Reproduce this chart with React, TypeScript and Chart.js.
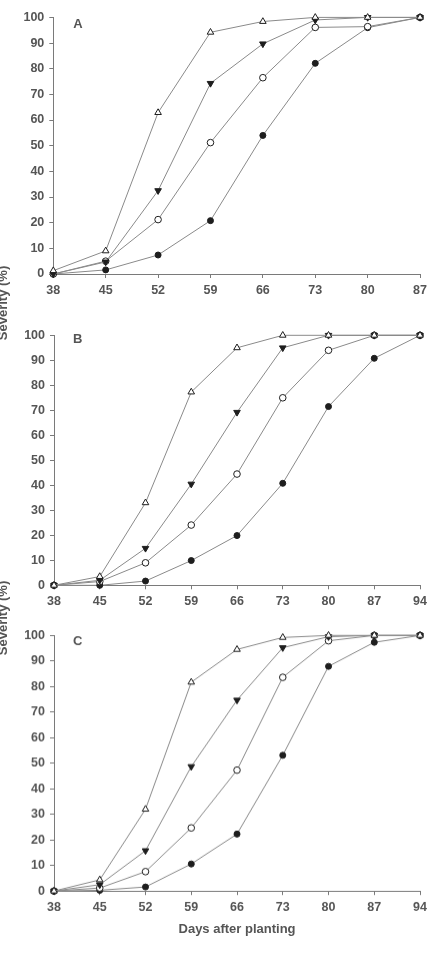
import { useEffect, useRef } from "react";
import { Chart, registerables } from "chart.js";

Chart.register(...registerables);

// Days after planting for each trial
const daysA = [38, 45, 52, 59, 66, 73, 80, 87];
const daysB = [38, 45, 52, 59, 66, 73, 80, 87, 94];
const daysC = [38, 45, 52, 59, 66, 73, 80, 87, 94];

// Severity (%) — trial A
const openTriangleA = [1.3, 9, 62.9, 94.2, 98.4, 100, 100, 100];
const filledTriangleA = [0, 4.7, 32.5, 74.3, 89.7, 99, 100, 100];
const openCircleA = [0, 5, 21.2, 51.2, 76.5, 96.1, 96.4, 100];
const filledCircleA = [0, 1.6, 7.4, 20.8, 54, 82.1, 96, 100];

// Severity (%) — trial B
const openTriangleB = [0, 3.5, 33, 77.3, 95, 100, 100, 100, 100];
const filledTriangleB = [0, 2, 14.8, 40.5, 69.2, 95, 100, 100, 100];
const openCircleB = [0, 1.5, 9, 24.1, 44.5, 75, 94, 100, 100];
const filledCircleB = [0, 0, 1.7, 9.9, 19.9, 40.8, 71.5, 90.8, 100];

// Severity (%) — trial C
const openTriangleC = [0, 4.4, 32, 81.7, 94.5, 99.2, 100, 100, 100];
const filledTriangleC = [0, 2.5, 15.8, 48.7, 74.7, 95.2, 99.5, 100, 100];
const openCircleC = [0, 1.2, 7.6, 24.7, 47.3, 83.6, 97.9, 100, 100];
const filledCircleC = [0, 0.3, 1.6, 10.6, 22.3, 53.1, 87.9, 97.3, 100];

const severityTicks = [0, 10, 20, 30, 40, 50, 60, 70, 80, 90, 100];

const FONT = "'Liberation Sans', Arial, sans-serif";
const TEXT = "#555555";
const AXIS = "#7a7a7a";
const LINE = "#8a8a8a";
const INK = "#1e1e1e";

const markerStyles = [
  { pointStyle: "triangle", rotation: 0, fill: "#ffffff", radius: 3.8 },
  { pointStyle: "triangle", rotation: 180, fill: INK, radius: 3.8 },
  { pointStyle: "circle", rotation: 0, fill: "#ffffff", radius: 3.3 },
  { pointStyle: "circle", rotation: 0, fill: INK, radius: 3.0 },
];

type PanelProps = {
  letter: string;
  days: number[];
  series: number[][];
  canvasTop: number;
  canvasHeight: number;
  plotLeft: number;
  plotRight: number;
  plotTop: number;
  plotBottom: number;
  letterDx: number;
  letterDy: number;
  xTitle?: string;
};

function Panel(p: PanelProps) {
  const ref = useRef<HTMLCanvasElement | null>(null);

  useEffect(() => {
    if (!ref.current) return;
    const tickFont = { family: FONT, size: 12.5, weight: "bold" as const };

    const letterPlugin = {
      id: "panelLetter",
      afterDraw(chart: Chart) {
        const { ctx, chartArea } = chart;
        ctx.save();
        ctx.font = `bold 13px ${FONT}`;
        ctx.fillStyle = TEXT;
        ctx.textAlign = "left";
        ctx.textBaseline = "alphabetic";
        ctx.fillText(p.letter, chartArea.left + p.letterDx, chartArea.top + p.letterDy);
        ctx.restore();
      },
    };

    const chart = new Chart(ref.current, {
      type: "line",
      data: {
        datasets: p.series.map((vals, i) => {
          const m = markerStyles[i];
          return {
            data: p.days.map((d, j) => ({ x: d, y: vals[j] })),
            borderColor: LINE,
            borderWidth: 1,
            tension: 0,
            fill: false,
            clip: false,
            pointStyle: m.pointStyle as any,
            pointRotation: m.rotation,
            pointRadius: m.radius,
            pointHoverRadius: m.radius,
            pointBackgroundColor: m.fill,
            pointBorderColor: INK,
            pointBorderWidth: 1,
          };
        }),
      },
      options: {
        animation: false,
        responsive: false,
        maintainAspectRatio: false,
        events: [],
        layout: {
          padding: {
            top: p.plotTop - p.canvasTop,
            right: 432 - p.plotRight,
            left: 0,
            bottom: 0,
          },
        },
        plugins: {
          legend: { display: false },
          tooltip: { enabled: false },
        },
        scales: {
          x: {
            type: "linear",
            min: p.days[0],
            max: p.days[p.days.length - 1],
            afterBuildTicks: (s: any) => {
              s.ticks = p.days.map((v) => ({ value: v }));
            },
            afterFit: (s: any) => {
              s.height = p.canvasTop + p.canvasHeight - p.plotBottom;
            },
            ticks: {
              color: TEXT,
              font: tickFont,
              padding: 5,
              maxRotation: 0,
              autoSkip: false,
            },
            grid: {
              drawOnChartArea: false,
              drawTicks: true,
              tickLength: 4,
              color: AXIS,
            },
            border: { color: AXIS, width: 1 },
            title: {
              display: !!p.xTitle,
              text: p.xTitle || "",
              color: TEXT,
              font: { family: FONT, size: 13, weight: "bold" },
              padding: { top: 0, bottom: 0 },
            },
          },
          y: {
            type: "linear",
            min: 0,
            max: 100,
            afterBuildTicks: (s: any) => {
              s.ticks = severityTicks.map((v) => ({ value: v }));
            },
            afterFit: (s: any) => {
              s.width = p.plotLeft;
            },
            ticks: {
              color: TEXT,
              font: tickFont,
              padding: 5,
              autoSkip: false,
            },
            grid: {
              drawOnChartArea: false,
              drawTicks: true,
              tickLength: 4,
              color: AXIS,
            },
            border: { color: AXIS, width: 1 },
          },
        },
      },
      plugins: [letterPlugin],
    } as any);

    return () => chart.destroy();
  }, []);

  return (
    <canvas
      ref={ref}
      width={432}
      height={p.canvasHeight}
      style={{
        position: "absolute",
        left: 0,
        top: p.canvasTop,
        width: 432,
        height: p.canvasHeight,
      }}
    />
  );
}

function AxisLabel({ centerY }: { centerY: number }) {
  return (
    <div
      style={{
        position: "absolute",
        left: 2,
        top: centerY,
        transform: "translate(-50%, -50%) rotate(-90deg)",
        whiteSpace: "nowrap",
        fontFamily: FONT,
        fontWeight: "bold",
        fontSize: 13,
        lineHeight: "15px",
        color: TEXT,
      }}
    >
      Severity (%)
    </div>
  );
}

export default function App() {
  return (
    <div
      style={{
        position: "absolute",
        left: 0,
        top: 0,
        width: 432,
        height: 960,
        overflow: "hidden",
        background: "#ffffff",
      }}
    >
      <Panel
        letter="A"
        days={daysA}
        series={[openTriangleA, filledTriangleA, openCircleA, filledCircleA]}
        canvasTop={0}
        canvasHeight={300}
        plotLeft={53.3}
        plotRight={422.7}
        plotTop={17.4}
        plotBottom={274}
        letterDx={20}
        letterDy={11}
      />
      <Panel
        letter="B"
        days={daysB}
        series={[openTriangleB, filledTriangleB, openCircleB, filledCircleB]}
        canvasTop={310}
        canvasHeight={305}
        plotLeft={54}
        plotRight={420}
        plotTop={335.3}
        plotBottom={585.3}
        letterDx={19}
        letterDy={7.4}
      />
      <Panel
        letter="C"
        days={daysC}
        series={[openTriangleC, filledTriangleC, openCircleC, filledCircleC]}
        canvasTop={615}
        canvasHeight={321.5}
        plotLeft={54}
        plotRight={423.3}
        plotTop={635.3}
        plotBottom={890.7}
        letterDx={19}
        letterDy={9.7}
        xTitle="Days after planting"
      />
      <AxisLabel centerY={302.5} />
      <AxisLabel centerY={618} />
    </div>
  );
}
